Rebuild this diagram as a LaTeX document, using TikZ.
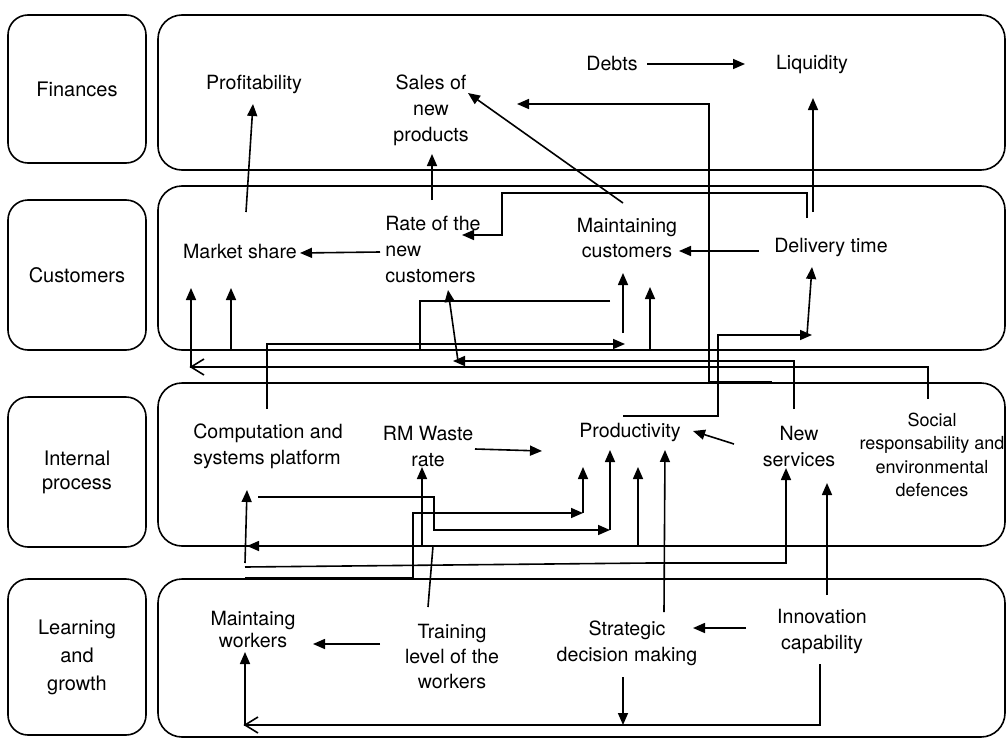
\documentclass[tikz,border=0pt]{standalone}
\usepackage{fontspec}
\setmainfont{TeX Gyre Heros}
\usetikzlibrary{arrows.meta}

\begin{document}
\begin{tikzpicture}[x=0.5pt, y=-0.5pt, line width=0.8pt,
  font=\fontsize{9.8}{13}\selectfont,
  lane/.style={draw, rounded corners=10pt, minimum width=69pt, inner sep=0pt, align=center},
  band/.style={rounded corners=12pt},
  item/.style={align=center, inner sep=1pt},
  arr/.style={-{Triangle[length=6pt, width=5pt]}}]

\useasboundingbox (0,0) rectangle (1007,739);

% lanes
\node[lane, minimum height=74pt, font=\fontsize{10}{13}\selectfont] (finances) at (77,89) {Finances};
\node[lane, minimum height=75pt, font=\fontsize{10}{13}\selectfont] (customers) at (77,275) {Customers};
\node[lane, minimum height=75pt, font=\fontsize{10}{12}\selectfont] (internal) at (77,472) {Internal\\process};
\node[lane, minimum height=78pt, font=\fontsize{10}{14}\selectfont] (learning) at (77,657) {Learning\\and\\growth};

\draw[band] (158,15) rectangle (1005,170);
\draw[band] (158,186) rectangle (1005,350);
\draw[band] (158,383) rectangle (1005,546);
\draw[band] (158,579) rectangle (1005,737);

% items
\node[item] (profit) at (254,84) {Profitability};
\node[item] (sales) at (431,110) {Sales of\\new\\products};
\node[item] (debts) at (612,64) {Debts};
\node[item] (liquid) at (812,64) {Liquidity};

\node[item] (market) at (240,252) {Market share};
\node[item, align=left] (rate) at (433,249) {Rate of the\\new\\customers};
\node[item] (keepcust) at (627,238) {Maintaining\\customers};
\node[item] (delivery) at (831,247) {Delivery time};

\node[item, align=left] (platform) at (268,446) {Computation and\\systems platform};
\node[item] (waste) at (428,446) {RM Waste\\rate};
\node[item] (product) at (630,432) {Productivity};
\node[item] (services) at (799,446) {New\\services};
\node[item, font=\fontsize{9}{11.7}\selectfont] (social) at (932,455) {Social\\responsability and\\environmental\\defences};

\node[item, font=\fontsize{9.8}{11}\selectfont] (workers) at (253,629) {Maintaing\\workers};
\node[item, font=\fontsize{9.8}{12.5}\selectfont] (training) at (452,656) {Training\\level of the\\workers};
\node[item] (decision) at (627,643) {Strategic\\decision making};
\node[item] (innov) at (822,631) {Innovation\\capability};

% finances <- customers
\coordinate (market-up) at (246,212);
\coordinate (profit-in) at (253,104);
\coordinate (rate-up) at (432,200);
\coordinate (sales-in) at (432,154);
\coordinate (keep-up) at (623,203);
\coordinate (sales-in2) at (468,93);
\coordinate (serv-top) at (772,382);
\coordinate (sales-bend) at (709,104);
\coordinate (sales-in3) at (517,104);
\coordinate (debts-out) at (647,64);
\coordinate (liquid-in) at (745,64);
\coordinate (deliv-up) at (813,212);
\coordinate (liquid-in2) at (813,98);

\draw[arr] (market-up) -- (profit-in);
\draw[arr] (rate-up) -- (sales-in);
\draw[arr] (keep-up) -- (sales-in2);
\draw[arr] (serv-top) -| (sales-bend) -- (sales-in3);
\draw[arr] (debts-out) -- (liquid-in);
\draw[arr] (deliv-up) -- (liquid-in2);

% customers
\coordinate (deliv-back) at (807,218);
\coordinate (rate-bend) at (502,193);
\coordinate (rate-in) at (462,235);
\coordinate (deliv-out) at (759,251);
\coordinate (keep-in) at (679,251);
\coordinate (rate-out) at (380,252);
\coordinate (market-in) at (300,253);

\draw[arr] (deliv-back) |- (rate-bend) |- (rate-in);
\draw[arr] (deliv-out) -- (keep-in);
\draw[arr] (rate-out) -- (market-in);

% customers <- internal process
\coordinate (social-top) at (928,399);
\coordinate (market-bend) at (191,367);
\coordinate (market-in2) at (191,288);
\coordinate (keep-low) at (610,301);
\coordinate (market-bend2) at (420,350);
\coordinate (market-in3) at (231,288);
\coordinate (platform-top) at (267,409);
\coordinate (keep-arr) at (625,344);
\coordinate (keep-from) at (623,333);
\coordinate (keep-in2) at (623,273);
\coordinate (band-foot) at (650,350);
\coordinate (keep-in3) at (650,287);
\coordinate (prod-top) at (623,416);
\coordinate (deliv-bend) at (718,335);
\coordinate (deliv-arr) at (812,335);
\coordinate (deliv-from) at (807,335);
\coordinate (deliv-in) at (812,267);
\coordinate (serv-top2) at (794,409);
\coordinate (rate-arr) at (453,361);
\coordinate (rate-from) at (458,361);
\coordinate (rate-in2) at (448,290);

\draw[arr] (social-top) |- (market-bend) -- (market-in2);
\draw (market-bend) ++(13,-8) -- (market-bend) -- ++(13,8);
\draw[arr] (keep-low) -| (market-bend2) -| (market-in3);
\draw[arr] (platform-top) |- (keep-arr);
\draw[arr] (keep-from) -- (keep-in2);
\draw[arr] (band-foot) -- (keep-in3);
\draw[arr] (prod-top) -| (deliv-bend) -- (deliv-arr);
\draw[arr] (deliv-from) -- (deliv-in);
\draw[arr] (serv-top2) |- (rate-arr);
\draw[arr] (rate-from) -- (rate-in2);

% internal process
\coordinate (waste-out) at (475,449);
\coordinate (prod-in) at (542,451);
\coordinate (serv-out) at (734,444);
\coordinate (prod-in2) at (693,431);
\coordinate (platform-out) at (258,497);
\coordinate (prod-bend) at (434,530);
\coordinate (prod-arr) at (610,530);
\coordinate (prod-in3) at (610,450);
\coordinate (learn-top) at (245,578);
\coordinate (prod-bend2) at (413,513);
\coordinate (prod-arr2) at (583,513);
\coordinate (prod-in4) at (583,467);

\draw[arr] (waste-out) -- (prod-in);
\draw[arr] (serv-out) -- (prod-in2);
\draw[arr] (platform-out) -| (prod-bend) -- (prod-arr);
\draw[arr] (prod-arr) -- (prod-in3);
\draw[arr] (learn-top) -| (prod-bend2) -- (prod-arr2);
\draw[arr] (prod-arr2) -- (prod-in4);

% internal process <- learning and growth
\coordinate (training-up) at (428,607);
\coordinate (train-join) at (433,546);
\coordinate (prod-foot) at (638,546);
\coordinate (platform-arr) at (247,546);
\coordinate (waste-foot) at (422,546);
\coordinate (waste-in) at (422,467);
\coordinate (prod-in5) at (638,467);
\coordinate (platform-low) at (245,563);
\coordinate (platform-in) at (247,490);
\coordinate (platform-low2) at (245,567);
\coordinate (serv-bend) at (650,563);
\coordinate (serv-in) at (786,468);
\coordinate (decision-up) at (664,612);
\coordinate (prod-in6) at (665,450);
\coordinate (innov-up) at (827,595);
\coordinate (serv-in2) at (827,483);

\draw (training-up) -- (train-join);
\draw[arr] (prod-foot) -- (platform-arr);
\draw[arr] (waste-foot) -- (waste-in);
\draw[arr] (prod-foot) -- (prod-in5);
\draw[arr] (platform-low) -- (platform-in);
\draw[arr] (platform-low2) -- (serv-bend) -| (serv-in);
\draw[arr] (decision-up) -- (prod-in6);
\draw[arr] (innov-up) -- (serv-in2);

% learning and growth
\coordinate (training-out) at (380,644);
\coordinate (workers-in) at (313,644);
\coordinate (innov-out) at (746,628);
\coordinate (decision-in) at (693,628);
\coordinate (decision-down) at (623,677);
\coordinate (foot-arr) at (623,725);
\coordinate (innov-down) at (820,664);
\coordinate (workers-bend) at (245,725);
\coordinate (workers-in2) at (245,652);

\draw[arr] (training-out) -- (workers-in);
\draw[arr] (innov-out) -- (decision-in);
\draw[arr] (decision-down) -- (foot-arr);
\draw[arr] (innov-down) |- (workers-bend) -- (workers-in2);
\draw (workers-bend) ++(13,-8) -- (workers-bend) -- ++(13,8);

\end{tikzpicture}
\end{document}
